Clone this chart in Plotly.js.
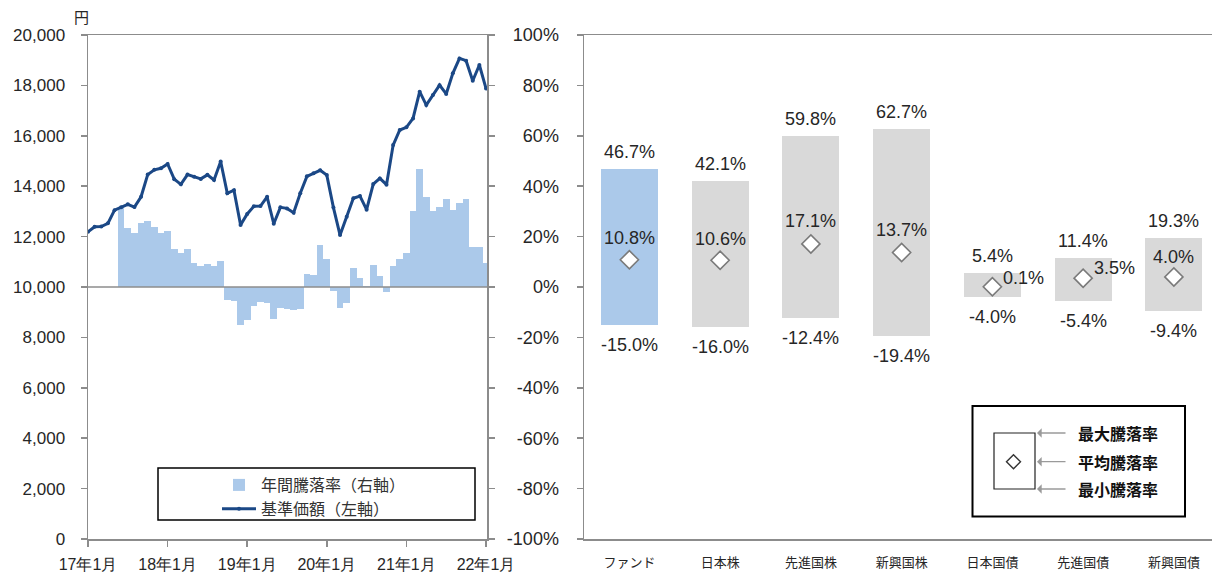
<!DOCTYPE html>
<html>
<head>
<meta charset="utf-8">
<script src="https://cdn.plot.ly/plotly-3.0.1.min.js"></script>
<style>html,body{margin:0;padding:0;background:#fff;}#chart{width:1212px;height:572px;}</style>
</head>
<body>
<div id="chart"></div>
<script>
// ---------- DATA ----------
const months = ["2017/01","2017/02","2017/03","2017/04","2017/05","2017/06","2017/07","2017/08","2017/09","2017/10","2017/11","2017/12",
"2018/01","2018/02","2018/03","2018/04","2018/05","2018/06","2018/07","2018/08","2018/09","2018/10","2018/11","2018/12",
"2019/01","2019/02","2019/03","2019/04","2019/05","2019/06","2019/07","2019/08","2019/09","2019/10","2019/11","2019/12",
"2020/01","2020/02","2020/03","2020/04","2020/05","2020/06","2020/07","2020/08","2020/09","2020/10","2020/11","2020/12",
"2021/01","2021/02","2021/03","2021/04","2021/05","2021/06","2021/07","2021/08","2021/09","2021/10","2021/11","2021/12",
"2022/01"];
const xTickMonths = ["2017/01","2018/01","2019/01","2020/01","2021/01","2022/01"];
const xTickLabels = ["17年1月","18年1月","19年1月","20年1月","21年1月","22年1月"];
const navValues = [12190,12390,12400,12525,13050,13160,13280,13170,13580,14460,14650,14710,
14880,14280,14075,14460,14375,14290,14450,14245,14980,13720,13840,12460,
12900,13200,13210,13580,12510,13160,13120,12950,13720,14390,14510,14630,
14440,13150,12060,12790,13520,13610,13070,14085,14310,14060,15630,16230,
16335,16690,17750,17220,17620,18010,17660,18480,19070,18980,18185,18810,
17880];
const annualReturns = [null,null,null,null,null,31.5,23.6,21.3,25.3,26.2,23.8,21.6,
22.2,15.2,13.6,15.2,9.7,8.3,9.0,8.3,10.3,-5.2,-5.6,-15.0,
-13.1,-7.5,-6.0,-6.2,-12.8,-8.2,-8.8,-9.1,-8.6,5.0,4.8,16.7,
11.3,-1.6,-8.2,-6.2,7.7,3.7,0.3,8.6,4.4,-2.0,8.3,11.3,
13.6,30.2,46.7,35.9,30.2,31.7,35.1,30.4,33.5,34.8,16.0,16.0,
9.4];
const navTicks = [0,2000,4000,6000,8000,10000,12000,14000,16000,18000,20000];
const pctTicks = [-100,-80,-60,-40,-20,0,20,40,60,80,100];
const pctTickLabels = ["-100%","-80%","-60%","-40%","-20%","0%","20%","40%","60%","80%","100%"];

const assetClasses = ["ファンド","日本株","先進国株","新興国株","日本国債","先進国債","新興国債"];
const maxReturns = [46.7,42.1,59.8,62.7,5.4,11.4,19.3];
const minReturns = [-15.0,-16.0,-12.4,-19.4,-4.0,-5.4,-9.4];
const avgReturns = [10.8,10.6,17.1,13.7,0.1,3.5,4.0];

const seriesNames = ["年間騰落率（右軸）","基準価額（左軸）"];
const boxLegendLabels = ["最大騰落率","平均騰落率","最小騰落率"];

// ---------- STYLE ----------
const W = 1212, H = 572;
const px = x => x / W;
const py = y => 1 - y / H;
const AXC = '#8c8c8c';
const TXT = '#262626';
const SANS = 'Liberation Sans, Arial, sans-serif';
const NARROW = 'Liberation Sans Narrow, Arial Narrow, Liberation Sans, Arial, sans-serif';
const JP = 'Noto Sans CJK JP, sans-serif';
const BLUE = '#abc9ea';
const GREY = '#d9d9d9';

const leftX = [px(88), px(487)];
const rightX = [px(584), 1];
const plotY = [py(539), py(35)];
const zeroPaperY = (plotY[0] + plotY[1]) / 2;

// ---------- TRACES ----------
const traces = [
  {type:'bar', x: months, y: annualReturns, xaxis:'x', yaxis:'y', width:1,
   marker:{color:BLUE, line:{width:0}}, name: seriesNames[0], hoverinfo:'skip'},
  {type:'scatter', mode:'lines+markers', x: months, y: navValues, xaxis:'x', yaxis:'y2',
   line:{color:'#1b4886', width:3}, marker:{color:'#1b4886', size:4},
   name: seriesNames[1], hoverinfo:'skip'},
  {type:'bar', x: assetClasses, y: maxReturns.map((v,i)=>v - minReturns[i]), base: minReturns,
   xaxis:'x2', yaxis:'y3', width:0.63,
   marker:{color: assetClasses.map((c,i)=> i===0 ? BLUE : GREY), line:{width:0}},
   showlegend:false, hoverinfo:'skip'},
  {type:'scatter', mode:'markers', x: assetClasses, y: avgReturns, xaxis:'x2', yaxis:'y3',
   marker:{symbol:'diamond', size:14, color:'#ffffff', line:{color:'#7a7a7a', width:1.6}},
   showlegend:false, hoverinfo:'skip', cliponaxis:false}
];

// ---------- ANNOTATIONS ----------
const annotations = [];
annotations.push({xref:'paper', yref:'paper', x:px(81), y:py(17), xanchor:'center', yanchor:'middle', text:'円', showarrow:false,
  font:{family:JP, size:15, color:TXT}});
const lblFont = {family:NARROW, size:18, color:TXT};
const fmt = v => v.toFixed(1) + '%';
assetClasses.forEach((c,i)=>{
  annotations.push({xref:'x2', yref:'y3', x:c, y:maxReturns[i], yshift:17, yanchor:'middle', text:fmt(maxReturns[i]),
    showarrow:false, font:lblFont});
  annotations.push({xref:'x2', yref:'y3', x:c, y:minReturns[i], yshift:-20, yanchor:'middle', text:fmt(minReturns[i]),
    showarrow:false, font:lblFont});
});
const avgPos = [
  {xs:0, ys:22, xa:'center'}, {xs:0, ys:21, xa:'center'}, {xs:0, ys:23, xa:'center'}, {xs:0, ys:22, xa:'center'},
  {xs:9, ys:9, xa:'left'}, {xs:9, ys:10, xa:'left'}, {xs:0, ys:20, xa:'center'}
];
assetClasses.forEach((c,i)=>{
  annotations.push({xref:'x2', yref:'y3', x:c, y:avgReturns[i], xshift:avgPos[i].xs, yshift:avgPos[i].ys,
    xanchor:avgPos[i].xa, yanchor:'middle', text:fmt(avgReturns[i]), showarrow:false, font:lblFont});
});
const arrowYs = [433, 461.7, 489];
arrowYs.forEach((y,i)=>{
  annotations.push({xref:'paper', yref:'paper', x:px(1037), y:py(y), ax:30, ay:0, axref:'pixel', ayref:'pixel',
    text:'', showarrow:true, arrowhead:1, arrowsize:1.2, arrowwidth:1.3, arrowcolor:'#9a9a9a', standoff:0, startstandoff:0});
  annotations.push({xref:'paper', yref:'paper', x:px(1076), y:py(y), xanchor:'left', yanchor:'middle', text:'<b>'+boxLegendLabels[i]+'</b>',
    showarrow:false, font:{family:JP, size:16, color:'#111'}});
});

// ---------- SHAPES ----------
const shapes = [
  {type:'line', xref:'x domain', yref:'y', x0:0, x1:1, y0:0, y1:0, line:{color:AXC, width:1.5}, layer:'above'},
  {type:'rect', xref:'paper', yref:'paper', x0:px(158), x1:px(475), y0:py(468), y1:py(520),
   line:{color:'#000', width:1.5}, fillcolor:'rgba(0,0,0,0)'},
  {type:'rect', xref:'paper', yref:'paper', x0:px(972.5), x1:px(1185), y0:py(406), y1:py(516.5),
   line:{color:'#000', width:2}, fillcolor:'rgba(0,0,0,0)'},
  {type:'rect', xref:'paper', yref:'paper', x0:px(994), x1:px(1035), y0:py(433), y1:py(489),
   line:{color:'#222', width:1.2}, fillcolor:'#fff'},
  {type:'path', xref:'paper', yref:'paper',
   path:`M ${px(1013.5)} ${py(454.7)} L ${px(1020.5)} ${py(461.7)} L ${px(1013.5)} ${py(468.7)} L ${px(1006.5)} ${py(461.7)} Z`,
   line:{color:'#333', width:1.4}, fillcolor:'#fff'}
];

// ---------- LAYOUT ----------
const tickFontL = {family:SANS, size:17, color:TXT};
const layout = {
  width:W, height:H, margin:{l:0,r:0,t:0,b:0}, paper_bgcolor:'#fff', plot_bgcolor:'rgba(0,0,0,0)',
  showlegend:true, bargap:0,
  legend:{x:px(217), y:py(468), xanchor:'left', yanchor:'top', bgcolor:'rgba(0,0,0,0)', borderwidth:0,
          font:{family:JP, size:16, color:'#333'}, tracegroupgap:0, itemwidth:34},
  xaxis:{domain:leftX, anchor:'y', type:'category', categoryorder:'array', categoryarray:months,
         range:[0,60.15], tickmode:'array', tickvals:xTickMonths, ticktext:xTickLabels,
         showline:true, linecolor:AXC, linewidth:1.5, mirror:true, ticks:'outside', ticklen:6, tickcolor:AXC, tickwidth:1.5,
         tickfont:{family:SANS, size:16, color:TXT}, ticklabelstandoff:4, showgrid:false, zeroline:false, automargin:false},
  yaxis:{domain:plotY, anchor:'x', side:'right', range:[-100,100], tickmode:'array', tickvals:pctTicks,
         showticklabels:false, showline:true, linecolor:AXC, linewidth:1.5, ticks:'outside', ticklen:6, tickcolor:AXC, tickwidth:1.5,
         showgrid:false, zeroline:false, automargin:false},
  yaxis2:{domain:plotY, anchor:'x', overlaying:'y', side:'left', range:[0,20000], tickmode:'array', tickvals:navTicks,
          tickformat:',d', showline:true, linecolor:AXC, linewidth:1.5, ticks:'outside', ticklen:6, tickcolor:AXC, tickwidth:1.5,
          tickfont:tickFontL, ticklabelstandoff:12, showgrid:false, zeroline:false, automargin:false},
  xaxis2:{domain:rightX, anchor:'y3', type:'category', categoryorder:'array', categoryarray:assetClasses,
          range:[-0.5,6.42], showline:true, linecolor:AXC, linewidth:1.5, mirror:true, ticks:'',
          tickfont:{family:JP, size:13, color:TXT}, ticklabelstandoff:11, showgrid:false, zeroline:false, automargin:false},
  yaxis3:{domain:plotY, anchor:'x2', range:[-100,100], tickmode:'array', tickvals:pctTicks, ticktext:pctTickLabels,
          showline:true, linecolor:AXC, linewidth:1.5, ticks:'outside', ticklen:6, tickcolor:AXC, tickwidth:1.5,
          tickfont:{family:NARROW, size:18, color:TXT}, ticklabelstandoff:14, showgrid:false, zeroline:false, automargin:false},
  xaxis3:{overlaying:'x2', anchor:'free', position:zeroPaperY, type:'category', categoryorder:'array', categoryarray:assetClasses,
          range:[-0.5,6.42], showline:true, linecolor:AXC, linewidth:1.5, ticks:'outside', tickson:'boundaries',
          ticklen:6, tickcolor:AXC, tickwidth:1.5, showticklabels:false, showgrid:false, zeroline:false, automargin:false},
  xaxis4:{overlaying:'x2', anchor:'free', position:zeroPaperY, type:'category', categoryorder:'array', categoryarray:assetClasses,
          range:[-0.5,6.42], showline:false, ticks:'inside', tickson:'boundaries',
          ticklen:6, tickcolor:AXC, tickwidth:1.5, showticklabels:false, showgrid:false, zeroline:false, automargin:false},
  xaxis5:{overlaying:'x', anchor:'y', type:'category', categoryorder:'array', categoryarray:months, range:[0,60.15],
          tickmode:'array', tickvals:xTickMonths, showline:false, ticks:'inside', ticklen:6, tickcolor:AXC, tickwidth:1.5,
          showticklabels:false, showgrid:false, zeroline:false, automargin:false},
  yaxis4:{overlaying:'y', anchor:'x', side:'right', range:[-100,100], tickmode:'array', tickvals:pctTicks,
          showline:false, ticks:'inside', ticklen:6, tickcolor:AXC, tickwidth:1.5, showticklabels:false,
          showgrid:false, zeroline:false, automargin:false},
  yaxis5:{overlaying:'y', anchor:'x', side:'left', range:[0,20000], tickmode:'array', tickvals:navTicks,
          showline:false, ticks:'inside', ticklen:6, tickcolor:AXC, tickwidth:1.5, showticklabels:false,
          showgrid:false, zeroline:false, automargin:false},
  annotations: annotations,
  shapes: shapes
};

Plotly.newPlot('chart', traces, layout, {displayModeBar:false, staticPlot:true});
</script>
</body>
</html>
